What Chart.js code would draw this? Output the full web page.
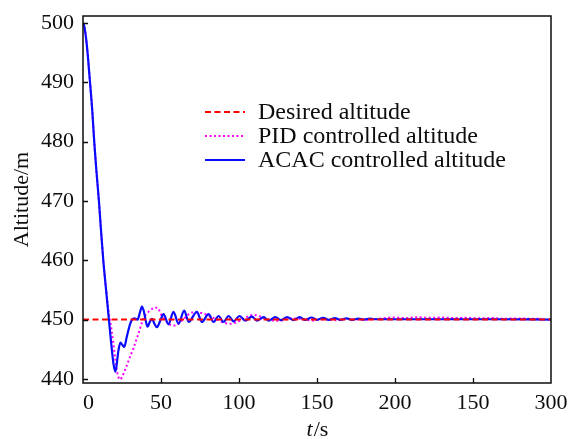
<!DOCTYPE html>
<html>
<head>
<meta charset="utf-8">
<script src="https://cdn.jsdelivr.net/npm/chart.js@4.4.0/dist/chart.umd.min.js"></script>
<style>
  html, body { margin: 0; padding: 0; background: #fff; }
  canvas { display: block; }
</style>
</head>
<body>
<canvas id="altitudeChart" width="571" height="439"></canvas>
<script>
// time axis (s) and altitude (m) for each run
const tDesired = [0, 300];
const desired = [450, 450];

const tPid = [0, 0.5, 1, 2, 3, 4, 4.5, 6, 7.2, 8.5, 10.2, 11.5, 13, 14.8, 16.6, 18.3, 20.5, 22, 23.8, 25.2,
  27.1, 30.3, 32.4, 35.6, 38.8, 42, 45, 47.5, 50.6, 54.8, 59.1, 64.5, 70, 73.5, 77.3, 81, 85.8, 90, 94.4, 99,
  104, 109.3, 114, 118, 123, 128, 133, 140, 147, 155, 162, 170, 180, 190, 198, 206, 214, 222, 230, 238,
  246, 254, 262, 270, 278, 286, 294];
const pid = [500, 499.8, 499.2, 497.4, 494.8, 491.6, 490, 485, 480, 475.4, 470, 465.2, 460, 455, 451, 448.3, 443.8, 441, 439.9, 440.4,
  441.6, 443.8, 445.2, 447.7, 450.2, 451.3, 451.9, 452.0, 450.6, 449.3, 449.0, 450.1, 451.2, 451.2, 451.0, 450.6, 450.0, 449.5, 449.3, 449.6,
  450.3, 450.8, 450.5, 450.1, 449.8, 449.9, 450.2, 450.1, 449.85, 450.05, 449.9, 450.1, 449.95, 450.15, 450.35, 450.25, 450.4, 450.3, 450.35, 450.25,
  450.3, 450.2, 450.25, 450.15, 450.2, 450.15, 450.15];

const tAcac = [0, 0.5, 1, 2, 3, 4, 4.5, 6, 7.2, 8.5, 10.2, 11.5, 13, 14.8, 16.6, 18, 19.5, 20.7, 21.6, 22.6,
  24, 25.3, 26.5, 28, 29.5, 31, 33, 35, 36.5, 37.8, 39, 40.2, 41.4, 42.8, 44.2, 45.8, 47.4, 49.5, 51.6, 54.8,
  58, 61.2, 64.9, 67.7, 73, 76.2, 80.5, 83.7, 86.9, 90.1, 93.3, 96.5, 100.4, 104, 108.3, 111.5, 115.8, 119, 123.3, 126.9,
  130.8, 135, 138.9, 142.5, 146.5, 150, 154, 157.5, 161.5, 165, 169, 172.5, 176.5, 180, 184, 188, 192, 220, 260, 300];
const acac = [500, 499.8, 499.2, 497.4, 494.8, 491.6, 490, 485, 480, 475.4, 470, 465.2, 460, 455, 450, 446.2, 442.6, 441.2, 442.4, 444.6,
  446.1, 445.7, 445.4, 447, 448.6, 449.8, 450.2, 450, 451.2, 452.2, 451.4, 449.8, 448.8, 449.6, 450.1, 449.3, 448.7, 449.8, 450.9, 449.2,
  451.3, 449.3, 451.5, 449.6, 451.3, 449.6, 450.9, 449.6, 450.6, 449.6, 450.6, 449.7, 450.6, 449.8, 450.5, 449.8, 450.4, 449.8, 450.4, 449.9,
  450.4, 449.9, 450.4, 449.95, 450.35, 449.95, 450.3, 449.95, 450.25, 449.95, 450.2, 449.95, 450.15, 450.0, 450.15, 450.05, 450.05, 450.05, 450.05, 450.0];

const xTickValues = [0, 50, 100, 150, 200, 250, 300];
const xTickLabels = ['0', '50', '100', '150', '200', '150', '300'];
const yTickValues = [440, 450, 460, 470, 480, 490, 500];
const seriesNames = ['Desired altitude', 'PID controlled altitude', 'ACAC controlled altitude'];

const SERIF = "'Liberation Serif', 'Times New Roman', serif";
const INK = '#0d0d0d';

function toPoints(ts, vs) {
  return ts.map((t, i) => ({ x: t, y: vs[i] }));
}

// box around the plot, inward tick marks, in-plot legend and the x title
const decorations = {
  id: 'decorations',
  afterDraw(chart) {
    const ctx = chart.ctx;
    const a = chart.chartArea;
    const xs = chart.scales.x;
    const ys = chart.scales.y;
    ctx.save();

    ctx.strokeStyle = INK;
    ctx.lineWidth = 1.5;
    ctx.strokeRect(a.left, a.top, a.right - a.left, a.bottom - a.top);

    ctx.lineWidth = 1.3;
    ctx.beginPath();
    xTickValues.slice(1, -1).forEach(v => {
      const px = Math.round(xs.getPixelForValue(v)) + 0.5;
      ctx.moveTo(px, a.bottom);
      ctx.lineTo(px, a.bottom - 5);
    });
    yTickValues.forEach(v => {
      const py = Math.round(ys.getPixelForValue(v)) + 0.5;
      ctx.moveTo(a.left, py);
      ctx.lineTo(a.left + 5, py);
    });
    ctx.stroke();

    // legend
    const sets = chart.data.datasets;
    const lx = a.left + 122;
    const ty = a.top + 96;
    ctx.font = '24px ' + SERIF;
    ctx.textBaseline = 'middle';
    ctx.textAlign = 'left';
    seriesNames.forEach((name, i) => {
      const ds = sets[i];
      const y = ty + i * 24;
      ctx.strokeStyle = ds.borderColor;
      ctx.lineWidth = ds.borderWidth;
      ctx.setLineDash(ds.borderDash || []);
      ctx.beginPath();
      ctx.moveTo(lx, y);
      ctx.lineTo(lx + 40, y);
      ctx.stroke();
      ctx.setLineDash([]);
      ctx.fillStyle = INK;
      ctx.fillText(name, lx + 53, y + 1);
    });

    // x axis title: italic t, upright /s
    const cx = (a.left + a.right) / 2;
    const by = 436;
    ctx.textBaseline = 'alphabetic';
    ctx.font = 'italic 22px ' + SERIF;
    const wt = ctx.measureText('t').width;
    ctx.font = '22px ' + SERIF;
    const ws = ctx.measureText('/s').width;
    const x0 = cx - (wt + ws) / 2;
    ctx.font = 'italic 22px ' + SERIF;
    ctx.fillText('t', x0, by);
    ctx.font = '22px ' + SERIF;
    ctx.fillText('/s', x0 + wt + 1, by);

    ctx.restore();
  }
};

new Chart(document.getElementById('altitudeChart'), {
  type: 'line',
  data: {
    datasets: [
      {
        label: seriesNames[0],
        data: toPoints(tDesired, desired),
        borderColor: '#ff0000',
        borderWidth: 2,
        borderDash: [6, 3.5],
        pointRadius: 0,
        order: 0
      },
      {
        label: seriesNames[1],
        data: toPoints(tPid, pid),
        borderColor: '#ff00ff',
        borderWidth: 2,
        borderDash: [2, 2.5],
        pointRadius: 0,
        cubicInterpolationMode: 'monotone',
        order: 2
      },
      {
        label: seriesNames[2],
        data: toPoints(tAcac, acac),
        borderColor: '#0a0aff',
        borderWidth: 2.2,
        pointRadius: 0,
        cubicInterpolationMode: 'monotone',
        order: 1
      }
    ]
  },
  options: {
    responsive: false,
    animation: false,
    devicePixelRatio: 1,
    layout: { padding: { top: 16, right: 20, left: 0, bottom: 0 } },
    plugins: {
      legend: { display: false },
      tooltip: { enabled: false }
    },
    scales: {
      x: {
        type: 'linear',
        min: 0,
        max: 300,
        afterBuildTicks: s => { s.ticks = xTickValues.map(v => ({ value: v })); },
        afterFit: s => { s.height = 56; s.paddingLeft = 0; s.paddingRight = 0; },
        grid: { display: false, drawTicks: false },
        border: { display: false },
        ticks: {
          font: { family: SERIF, size: 22 },
          color: INK,
          padding: 7,
          maxRotation: 0,
          callback: (v, i) => (i === 0 ? '  ' : '') + xTickLabels[i]
        }
      },
      y: {
        min: 439.3,
        max: 501.2,
        afterBuildTicks: s => { s.ticks = yTickValues.map(v => ({ value: v })); },
        afterFit: s => { s.width = 83; s.paddingTop = 0; s.paddingBottom = 0; },
        grid: { display: false, drawTicks: false },
        border: { display: false },
        ticks: {
          font: { family: SERIF, size: 22 },
          color: INK,
          padding: 9
        },
        title: {
          display: true,
          text: 'Altitude/m',
          font: { family: SERIF, size: 22 },
          color: INK,
          padding: { top: 9, bottom: 0 }
        }
      }
    }
  },
  plugins: [decorations]
});
</script>
</body>
</html>
